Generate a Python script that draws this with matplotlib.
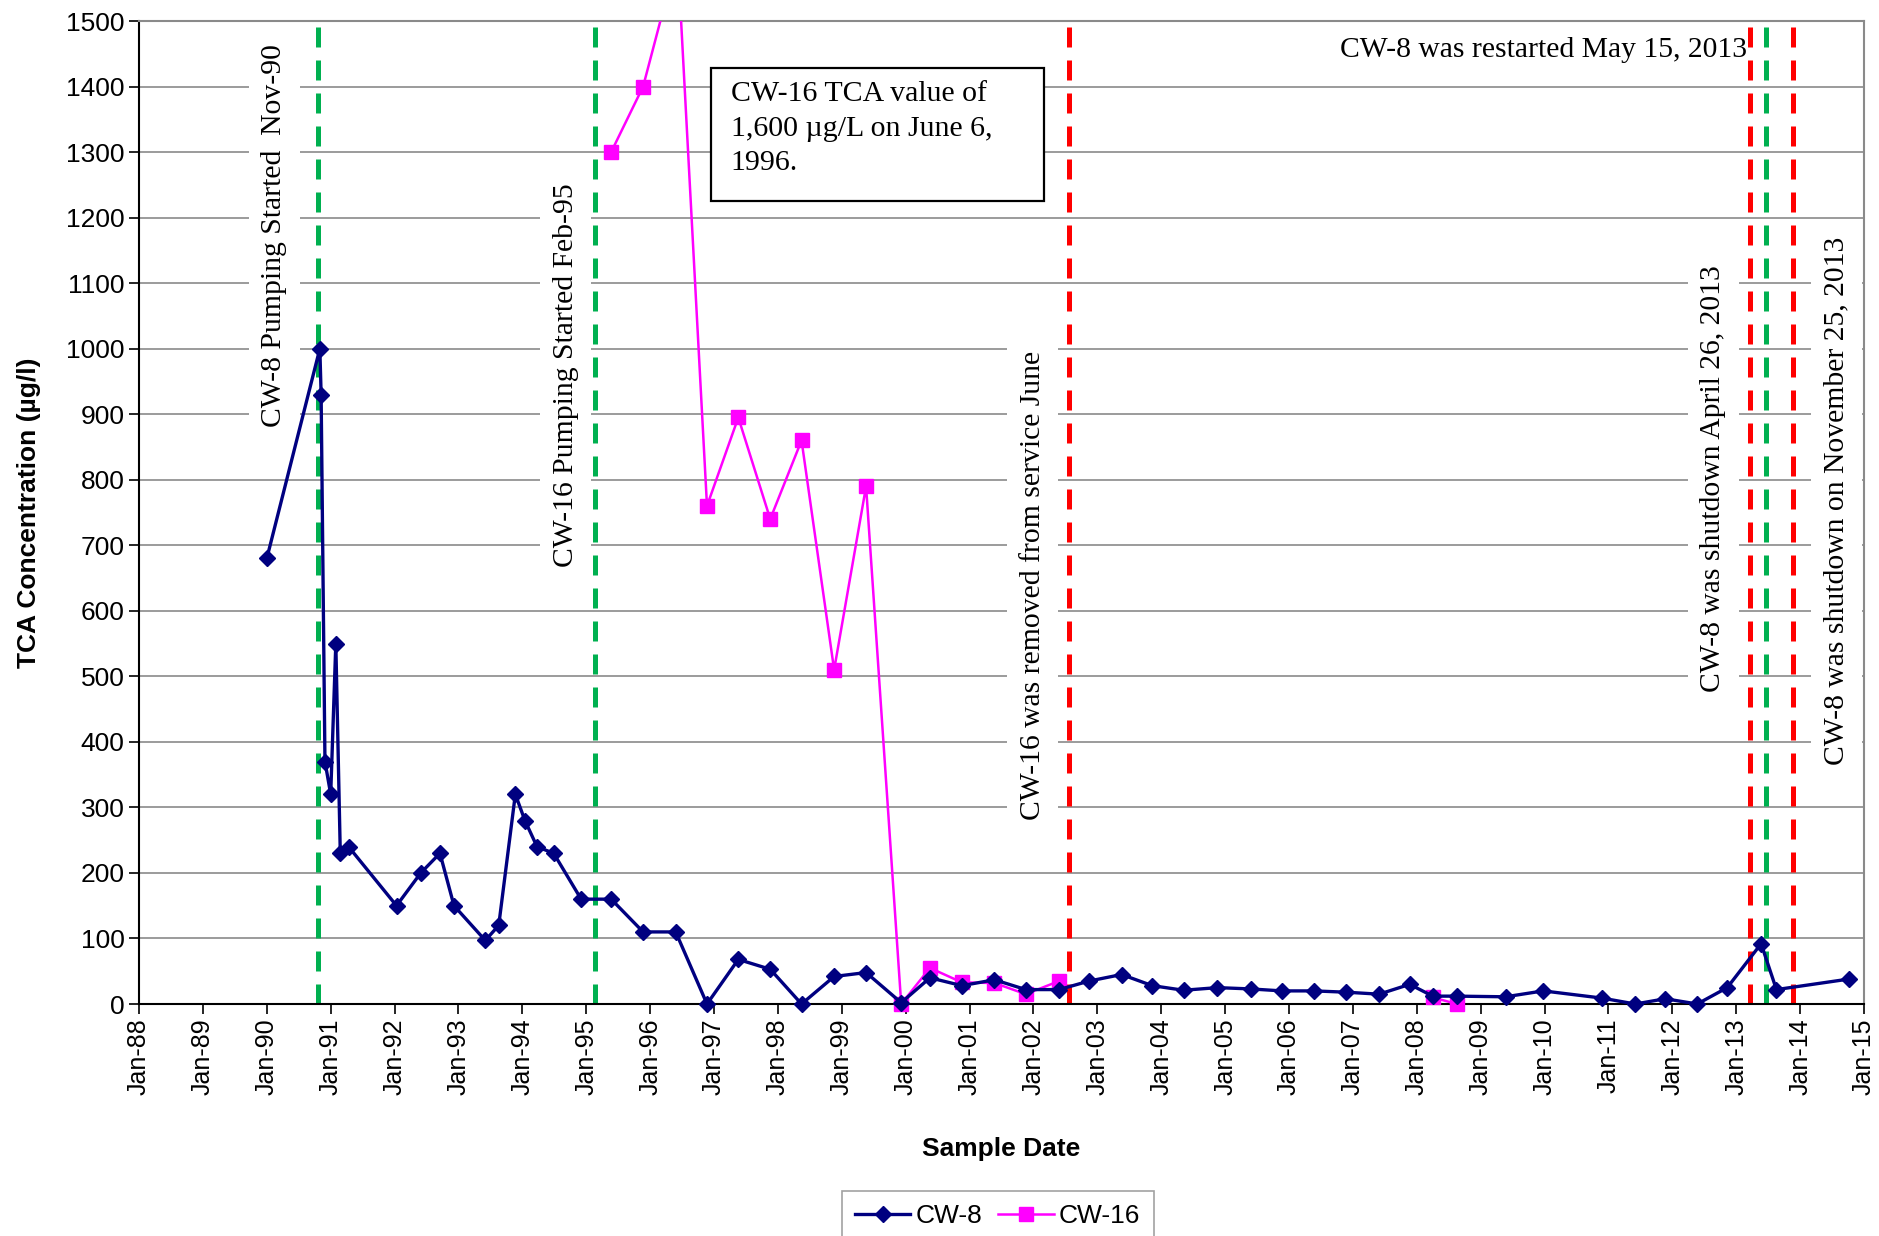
import matplotlib
matplotlib.use('Agg')
import matplotlib.pyplot as plt
from matplotlib.patches import Rectangle
import numpy as np

# ---------------- data ----------------
cw8_dates = [1990.00, 1990.83, 1990.85, 1990.91, 1991.00, 1991.08, 1991.15, 1991.28,
             1992.03, 1992.41, 1992.71, 1992.93, 1993.42, 1993.63, 1993.89, 1994.04,
             1994.23, 1994.49, 1994.92, 1995.39, 1995.89, 1996.40, 1996.89, 1997.38,
             1997.88, 1998.37, 1998.88, 1999.38, 1999.93, 2000.38, 2000.88, 2001.39,
             2001.88, 2002.40, 2002.87, 2003.38, 2003.86, 2004.35, 2004.88, 2005.40,
             2005.89, 2006.39, 2006.90, 2007.41, 2007.89, 2008.25, 2008.63, 2009.39,
             2009.98, 2010.90, 2011.42, 2011.89, 2012.39, 2012.86, 2013.39, 2013.63,
             2014.76]
cw8_vals = [680, 1000, 930, 370, 320, 550, 230, 240,
            150, 200, 230, 150, 97, 120, 320, 280,
            240, 230, 160, 160, 110, 110, 0, 68,
            53, 0, 42, 48, 2, 40, 28, 37,
            22, 22, 35, 45, 28, 21, 25, 23,
            20, 20, 18, 15, 30, 12, 12, 11,
            20, 9, 0, 8, 0, 25, 92, 22,
            38]

cw16_dates = [1995.39, 1995.89, 1996.43, 1996.89, 1997.38, 1997.88, 1998.37, 1998.88,
              1999.38, 1999.93, 2000.38, 2000.88, 2001.39, 2001.88, 2002.40, 2005.0,
              2008.25, 2008.63]
cw16_vals = [1300, 1400, 1600, 760, 895, 740, 860, 510,
             790, 0, 55, 33, 32, 15, 35, np.nan,
             10, 0]

event_dates = [1990.80, 1995.14, 2002.55, 2013.22, 2013.47, 2013.89]
event_colors = ['#00B050', '#00B050', '#FF0000', '#FF0000', '#00B050', '#FF0000']

tick_years = list(range(1988, 2016))
tick_labels = [f"Jan-{y % 100:02d}" for y in tick_years]
y_ticks = list(range(0, 1501, 100))

# ---------------- figure ----------------
fig = plt.figure(figsize=(18.79, 12.36), dpi=100)
ax = fig.add_axes([0.074, 0.1877, 0.918, 0.7953])

ax.set_xlim(1988, 2015)
ax.set_ylim(0, 1500)

ax.set_yticks(y_ticks)
ax.set_yticklabels([str(v) for v in y_ticks], fontsize=19, family='Liberation Sans')
ax.set_xticks(tick_years)
ax.set_xticklabels(tick_labels, rotation=90, fontsize=18, family='Liberation Sans')
ax.tick_params(axis='both', direction='out', length=7, width=1.2, colors='black')

ax.grid(axis='y', color='#8a8a8a', linewidth=1.2, zorder=0.5)
ax.set_axisbelow(True)

for s in ['left', 'bottom']:
    ax.spines[s].set_color('black')
    ax.spines[s].set_linewidth(1.5)
for s in ['top', 'right']:
    ax.spines[s].set_color('#8a8a8a')
    ax.spines[s].set_linewidth(1.5)

# event lines
for d, c in zip(event_dates, event_colors):
    ax.axvline(d, color=c, linewidth=3.6, dashes=(4, 2.6), zorder=1.8)

# data lines
cw8_d = np.array(cw8_dates)
cw8_v = np.array(cw8_vals, dtype=float)
cw16_d = np.array(cw16_dates)
cw16_v = np.array(cw16_vals, dtype=float)

ax.plot(cw16_d, cw16_v, color='#FF00FF', linewidth=1.8, zorder=3)
ax.plot(cw8_d, cw8_v, color='#000080', linewidth=2.4, zorder=4)

m16 = cw16_v <= 1500
ax.plot(cw16_d[m16], cw16_v[m16], linestyle='none', marker='s', markersize=10,
        color='#FF00FF', clip_on=False, zorder=3.5)
ax.plot(cw8_d, cw8_v, linestyle='none', marker='D', markersize=8.5,
        color='#000080', clip_on=False, zorder=4.5)

# legend proxies
ax.plot([], [], color='#000080', linewidth=2.4, marker='D', markersize=8.5, label='CW-8')
ax.plot([], [], color='#FF00FF', linewidth=1.8, marker='s', markersize=10, label='CW-16')
leg = fig.legend(loc='upper center', bbox_to_anchor=(0.531, 0.047), ncol=2,
                 prop={'family': 'Liberation Sans', 'size': 19}, frameon=True,
                 fancybox=False, edgecolor='#8a8a8a', handlelength=2.1,
                 handletextpad=0.2, columnspacing=0.6, borderpad=0.5)
leg.get_frame().set_linewidth(1.2)

# axis labels
ax.set_ylabel('TCA Concentration (µg/l)', fontsize=19, fontweight='bold',
              family='Liberation Sans', labelpad=18)
ax.set_xlabel('Sample Date', fontsize=19, fontweight='bold', family='Liberation Sans',
              labelpad=30)

# annotations
serif = 'Liberation Serif'
fs = 21.3
bb = dict(facecolor='white', edgecolor='none', pad=9)
ax.text(1990.12, 1172, 'CW-8 Pumping Started  Nov-90', rotation=90, ha='center',
        va='center', fontsize=fs, family=serif, bbox=bb, zorder=1.5)
ax.text(1994.68, 960, 'CW-16 Pumping Started Feb-95', rotation=90, ha='center',
        va='center', fontsize=fs, family=serif, bbox=bb, zorder=1.5)
ax.text(2001.99, 638, 'CW-16 was removed from service June', rotation=90, ha='center',
        va='center', fontsize=fs, family=serif, bbox=bb, zorder=1.5)
ax.text(2012.64, 802, 'CW-8 was shutdown April 26, 2013', rotation=90, ha='center',
        va='center', fontsize=fs, family=serif, bbox=bb, zorder=1.5)
ax.text(2014.57, 767, 'CW-8 was shutdown on November 25, 2013', rotation=90, ha='center',
        va='center', fontsize=fs, family=serif, bbox=bb, zorder=1.5)
ax.text(2013.17, 1456, 'CW-8 was restarted May 15, 2013', ha='right', va='center',
        fontsize=fs, family=serif, zorder=1.5)

# callout box
ax.add_patch(Rectangle((1996.96, 1226), 5.20, 203, facecolor='white',
                       edgecolor='black', linewidth=1.6, zorder=5))
ax.text(1997.26, 1408, 'CW-16 TCA value of\n1,600 µg/L on June 6,\n1996.', ha='left',
        va='top', fontsize=21.5, family=serif, linespacing=1.42, zorder=5.5)

fig.savefig('out.png', dpi=100)
